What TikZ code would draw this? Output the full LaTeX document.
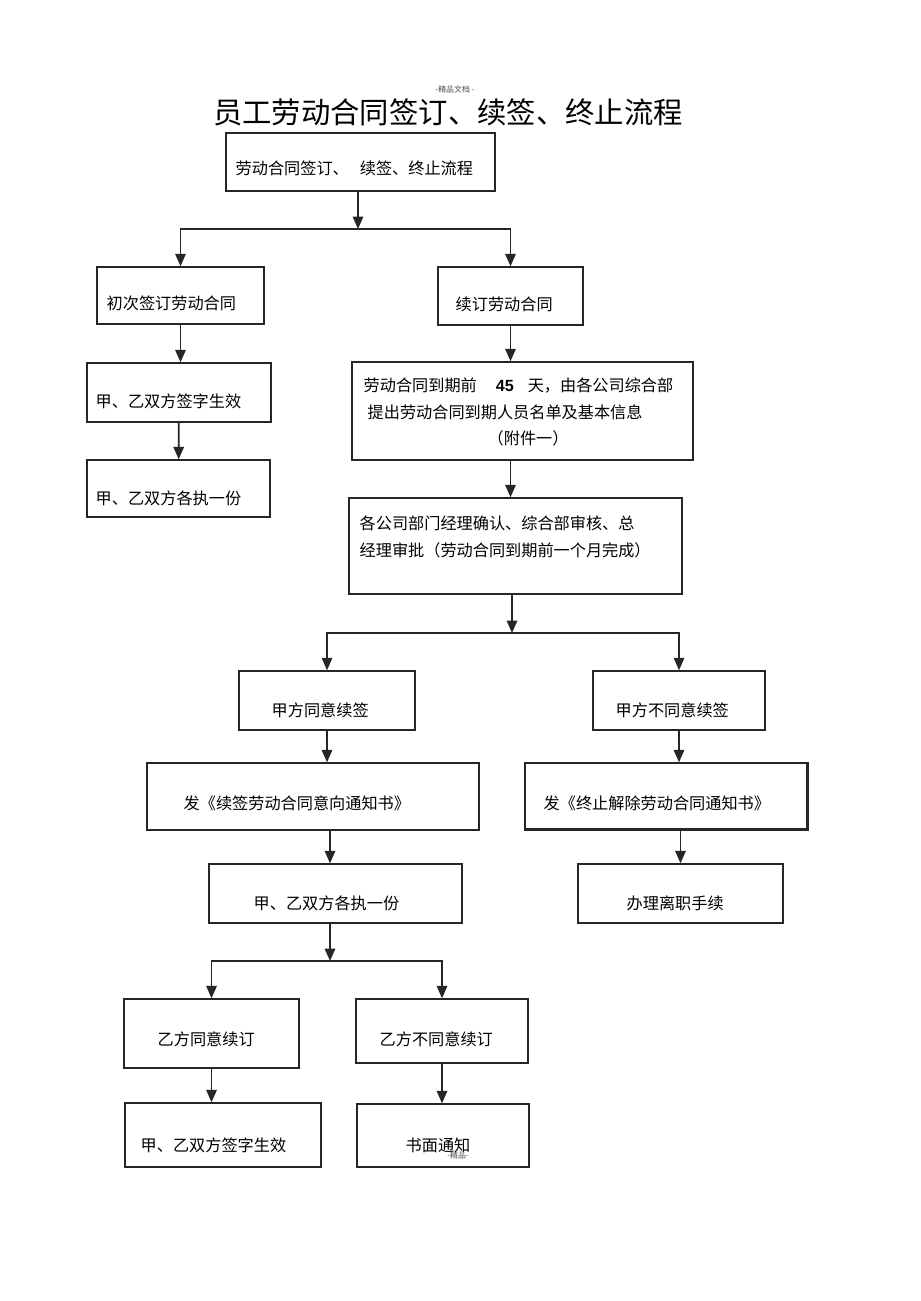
\documentclass[tikz,border=0pt]{standalone}
\usepackage{fontspec}
\setmainfont{Noto Sans CJK SC}
\setsansfont{Liberation Sans}
\usetikzlibrary{arrows.meta, fit}

\begin{document}
\begin{tikzpicture}[
    x=0.02cm, y=-0.02cm,   % one unit = one pixel of the page
    >={Triangle[length=2.5mm, width=2.1mm]},
    line width=0.8pt,
    box/.style={draw=black!85, line width=0.8pt, inner sep=0pt},
    txt/.style={anchor=west, inner sep=0pt, align=left, font=\fontsize{9.2}{15.3}\selectfont},
    note/.style={inner sep=0pt, text=black!70, font=\fontsize{4.5}{5}\selectfont},
    link/.style={->, draw=black!85, line width=1pt}
  ]
  \useasboundingbox (0,0) rectangle (920,1301);

  % --- HEADINGS ---
  \node[note] (head) at (455,89) {-精品文档 -};
  \node[inner sep=0pt, font=\fontsize{16.7}{20}\selectfont] (title) at (448,112)
    {员工劳动合同签订、续签、终止流程};

  % --- BOXES ---
  \node[box, fit={(226,133) (495,191)}] (b0) {};
  \node[box, fit={(97,267) (264,324)}] (b1) {};
  \node[box, fit={(438,267) (583,325)}] (b2) {};
  \node[box, fit={(87,363) (271,422)}] (b3) {};
  \node[box, fit={(87,460) (270,517)}] (b4) {};
  \node[box, fit={(352,362) (693,460)}] (b5) {};
  \node[box, fit={(349,498) (682,594)}] (b6) {};
  \node[box, fit={(239,671) (415,730)}] (b7) {};
  \node[box, fit={(593,671) (765,730)}] (b8) {};
  \node[box, fit={(147,763) (479,830)}] (b9) {};
  \node[box, fit={(525,763) (807,829)}] (b10) {};
  \node[box, fit={(578,864) (783,923)}] (b11) {};
  \node[box, fit={(209,864) (462,923)}] (b12) {};
  \node[box, fit={(124,999) (299,1068)}] (b13) {};
  \node[box, fit={(356,999) (528,1063)}] (b14) {};
  \node[box, fit={(125,1103) (321,1167)}] (b15) {};
  \node[box, fit={(357,1104) (529,1167)}] (b16) {};

  % heavier edge on the termination notice box
  \draw[line width=1.6pt, black!85] (b10.south west) -- (b10.south east) -- (b10.north east);

  % --- TEXTS ---
  \node[txt] (t0) at (235,168) {劳动合同签订、\hspace{0.22cm}续签、终止流程};
  \node[txt] (t1) at (106,303) {初次签订劳动合同};
  \node[txt] (t2) at (455,304) {续订劳动合同};
  \node[txt] (t3) at (95,401) {甲、乙双方签字生效};
  \node[txt] (t4) at (95,498) {甲、乙双方各执一份};
  \node[txt] (t5) at (363,412) {劳动合同到期前\hspace{0.38cm}{\sffamily\bfseries 45}\hspace{0.28cm}天，由各公司综合部\\
    \hspace*{0.08cm}提出劳动合同到期人员名单及基本信息\\
    \hspace*{2.48cm}（附件一）};
  \node[txt] (t6) at (359,536.5) {各公司部门经理确认、综合部审核、总\\
    经理审批（劳动合同到期前一个月完成）};
  \node[txt] (t7) at (271,710) {甲方同意续签};
  \node[txt] (t8) at (615,710) {甲方不同意续签};
  \node[txt] (t9) at (183,803) {发《续签劳动合同意向通知书》};
  \node[txt] (t10) at (543,803) {发《终止解除劳动合同通知书》};
  \node[txt] (t11) at (626,903) {办理离职手续};
  \node[txt] (t12) at (253,903) {甲、乙双方各执一份};
  \node[txt] (t13) at (157,1039) {乙方同意续订};
  \node[txt] (t14) at (379,1039) {乙方不同意续订};
  \node[txt] (t15) at (140,1145) {甲、乙双方签字生效};
  \node[txt] (t16) at (405,1145) {书面通知};
  \node[note] (foot) at (458,1155) {-精品-};

  % --- SPLIT POINTS ---
  \coordinate (s1) at (358,229);
  \coordinate (s2) at (512,633);
  \coordinate (s3) at (330,961);

  % --- CONNECTORS ---
  % 1. first signing / renewal
  \draw[link] (b0.south -| s1) -- (s1);
  \draw[link] (s1) -| (b1);
  \draw[link] (s1) -| (b2);
  \draw[link] (b1) -- (b1 |- b3.north);
  \draw[link] (b3) -- (b4);

  % 2. renewal check
  \draw[link] (b2) -- (b2 |- b5.north);
  \draw[link] (b5.south -| b2) -- (b6.north -| b2);
  \draw[link] (b6.south -| s2) -- (s2);
  \draw[link] (s2) -| (b7);
  \draw[link] (s2) -| (b8);

  % 3. employer side
  \draw[link] (b7) -- (b7 |- b9.north);
  \draw[link] (b9.south -| s3) -- (b12.north -| s3);
  \draw[link] (b8) -- (b8 |- b10.north);
  \draw[link] (b10.south -| b11) -- (b11);

  % 4. employee side
  \draw[link] (b12.south -| s3) -- (s3);
  \draw[link] (s3) -| (b13);
  \draw[link] (s3) -| (b14);
  \draw[link] (b13) -- (b13 |- b15.north);
  \draw[link] (b14) -- (b14 |- b16.north);

\end{tikzpicture}
\end{document}
